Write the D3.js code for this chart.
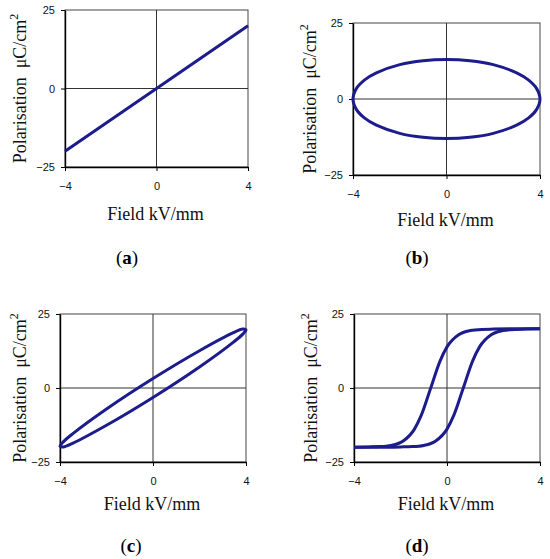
<!DOCTYPE html>
<html>
<head>
<meta charset="utf-8">
<script src="https://cdn.jsdelivr.net/npm/d3@7"></script>
<style>
  body { margin: 0; background: #fff; }
  svg { display: block; }
</style>
</head>
<body>
<script>
// tick labels, shared by all four panels
var xTicks = [-4, 0, 4];
var yTicks = [-25, 0, 25];
var panelLetters = ["a", "b", "c", "d"];

// (a) linear dielectric
var linearField = [-4, 4];
var linearPol = [-20, 20];

// (b) ideal resistor (closed loop)
var ellipseField = [4, 3.85, 3.5, 3, 2, 1, 0, -1, -2, -3, -3.5, -3.85,
  -4, -3.85, -3.5, -3, -2, -1, 0, 1, 2, 3, 3.5, 3.85];
var ellipsePol = [0, 3.5, 6.3, 8.6, 11.3, 12.6, 13, 12.6, 11.3, 8.6, 6.3, 3.5,
  0, -3.5, -6.3, -8.6, -11.3, -12.6, -13, -12.6, -11.3, -8.6, -6.3, -3.5];

// (c) lossy capacitor (closed loop)
var lossyField = [4, 3.86, 3.46, 2, 0, -2, -3.46, -3.86,
  -4, -3.86, -3.46, -2, 0, 2, 3.46, 3.86];
var lossyPol = [19.7, 19.9, 18.7, 12.6, 3.2, -7.1, -15.5, -18.2,
  -19.7, -19.9, -18.7, -12.6, -3.2, 7.1, 15.5, 18.2];

// (d) ferroelectric hysteresis, two branches
var upField = [-4, -3.4, -2.9, -2.4, -1.9, -1.4, -1.1, -0.7, -0.3, 0, 0.5, 1, 1.5, 2, 3, 4];
var upPol = [-20, -19.9, -19.8, -19.4, -18, -13.9, -9.1, 0, 9.1, 13.9, 18, 19.4, 19.8, 19.9, 20, 20];
var downField = [-4, -3, -2, -1.5, -1, -0.5, 0, 0.3, 0.7, 1.1, 1.4, 1.9, 2.4, 2.9, 3.4, 4];
var downPol = [-20, -20, -19.9, -19.8, -19.4, -18, -13.9, -9.1, 0, 9.1, 13.9, 18, 19.4, 19.8, 19.9, 20];

function pts(xs, ys) {
  return xs.map(function(x, i) { return [x, ys[i]]; });
}

var width = 550, height = 559;
var lineColor = "#1c1c8c";

var svg = d3.select("body").append("svg")
  .attr("width", width)
  .attr("height", height);

// panel boxes (pixels)
var boxes = [
  {l: 65, r: 248, t: 10, b: 167, yl: 26, fb: 220, lb: 264, lx: 127},
  {l: 353, r: 540, t: 23, b: 175, yl: 316, fb: 226, lb: 264, lx: 417},
  {l: 60, r: 246, t: 314, b: 462, yl: 26, fb: 510, lb: 552, lx: 131},
  {l: 354, r: 540, t: 314, b: 462, yl: 317, fb: 510, lb: 552, lx: 417}
];

var series = [
  {lines: [pts(linearField, linearPol)], closed: false},
  {lines: [pts(ellipseField, ellipsePol)], closed: true},
  {lines: [pts(lossyField, lossyPol)], closed: true},
  {lines: [pts(upField, upPol), pts(downField, downPol)], closed: false, smooth: true}
];

boxes.forEach(function(bx, k) {
  var x = d3.scaleLinear().domain([-4, 4]).range([bx.l, bx.r]);
  var y = d3.scaleLinear().domain([-25, 25]).range([bx.b, bx.t]);
  var g = svg.append("g");

  // frame
  g.append("rect")
    .attr("x", bx.l).attr("y", bx.t)
    .attr("width", bx.r - bx.l).attr("height", bx.b - bx.t)
    .attr("fill", "none")
    .attr("stroke", "#444")
    .attr("stroke-width", 1);

  // zero lines
  g.append("line")
    .attr("x1", x(0)).attr("x2", x(0))
    .attr("y1", bx.t).attr("y2", bx.b)
    .attr("stroke", "#333").attr("stroke-width", 1);
  g.append("line")
    .attr("x1", bx.l).attr("x2", bx.r)
    .attr("y1", y(0)).attr("y2", y(0))
    .attr("stroke", "#333").attr("stroke-width", 1);

  // axes
  var ax = g.append("g")
    .attr("transform", "translate(0," + bx.b + ")")
    .call(d3.axisBottom(x).tickValues(xTicks).tickSize(4).tickSizeOuter(0).tickPadding(11));
  var ay = g.append("g")
    .attr("transform", "translate(" + bx.l + ",0)")
    .call(d3.axisLeft(y).tickValues(yTicks).tickSize(4).tickSizeOuter(0).tickPadding(6));
  [ax, ay].forEach(function(a) {
    a.select(".domain").attr("stroke", "#000").attr("stroke-width", 1.4);
    a.selectAll(".tick line").attr("stroke", "#000");
    a.selectAll("text")
      .attr("font-family", "Liberation Sans, Arial, sans-serif")
      .attr("font-size", 11)
      .attr("fill", "#111");
  });

  // curves
  var s = series[k];
  var gen = d3.line()
    .x(function(d) { return x(d[0]); })
    .y(function(d) { return y(d[1]); })
    .curve(s.closed ? d3.curveCatmullRomClosed.alpha(0.5)
      : (s.smooth ? d3.curveMonotoneX : d3.curveLinear));
  s.lines.forEach(function(p) {
    g.append("path")
      .attr("d", gen(p))
      .attr("fill", "none")
      .attr("stroke", lineColor)
      .attr("stroke-width", 3)
      .attr("stroke-linejoin", "round");
  });

  // axis titles
  g.append("text")
    .attr("x", (bx.l + bx.r) / 2 - 1)
    .attr("y", bx.fb)
    .attr("text-anchor", "middle")
    .attr("font-family", "Liberation Serif, Times New Roman, serif")
    .attr("font-size", 18)
    .attr("fill", "#111")
    .text("Field kV/mm");

  var yt = g.append("text")
    .attr("transform", "translate(" + bx.yl + "," + ((bx.t + bx.b) / 2) + ") rotate(-90)")
    .attr("text-anchor", "middle")
    .attr("font-family", "Liberation Serif, Times New Roman, serif")
    .attr("font-size", 18)
    .attr("fill", "#111");
  yt.append("tspan").text("Polarisation\u00a0 \u03bcC/cm");
  yt.append("tspan").attr("dy", -8).attr("font-size", 12).text("2");

  // panel letter
  var lt = g.append("text")
    .attr("x", bx.lx)
    .attr("y", bx.lb)
    .attr("text-anchor", "middle")
    .attr("font-family", "Liberation Serif, Times New Roman, serif")
    .attr("font-size", 19)
    .attr("fill", "#000");
  lt.append("tspan").text("(");
  lt.append("tspan").attr("font-weight", "bold").text(panelLetters[k]);
  lt.append("tspan").text(")");
});
</script>
</body>
</html>
